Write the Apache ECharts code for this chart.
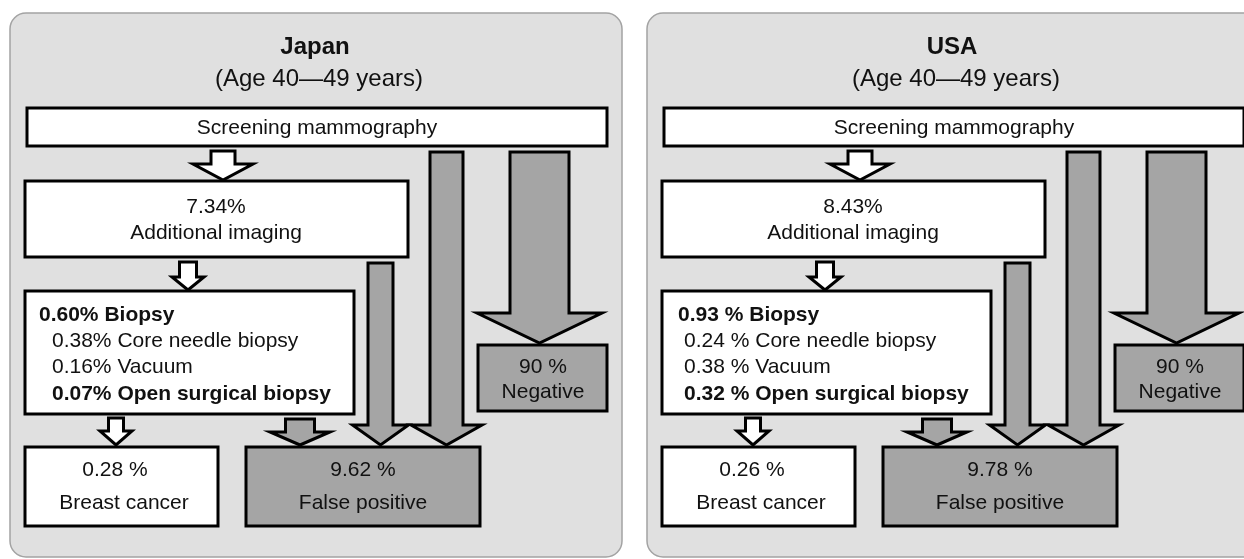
<!DOCTYPE html>
<html>
<head>
<meta charset="utf-8">
<title>Screening mammography outcomes, Japan vs USA</title>
<script src="https://cdn.jsdelivr.net/npm/echarts@6/dist/echarts.min.js"></script>
<style>
  html, body { margin: 0; padding: 0; background: #fff; }
  #main { width: 1244px; height: 559px; }
</style>
</head>
<body>
<div id="main"></div>
<script>
// ---- data ----
const countries = ['Japan', 'USA'];
const ageGroups = ['(Age 40\u201449 years)', '(Age 40\u201449 years)'];
const additionalImaging = [7.34, 8.43];
const biopsyTotal = [0.60, 0.93];
const coreNeedle = [0.38, 0.24];
const vacuum = [0.16, 0.38];
const openSurgical = [0.07, 0.32];
const breastCancer = [0.28, 0.26];
const falsePositive = [9.62, 9.78];
const negative = [90, 90];
// the two panels write the biopsy percentages a little differently
const biopsyPctSep = ['', ' '];
const biopsyIndent = [13, 6];

// ---- layout of one panel, in pixels of the diagram ----
const panelStep = 637;
const FONT = '"Liberation Sans", Arial, sans-serif';
const GREY = '#a5a5a5';
const INK = '#111';

function pct(v, sep) { return v.toFixed(2) + sep + '%'; }

const elements = [];
countries.forEach((name, p) => {
  const dx = p * panelStep;
  const sep = biopsyPctSep[p];
  const rect = (x, y, w, h, fill, extra) => elements.push(Object.assign({kind: 'rect', x: x + dx, y, w, h, fill}, extra || {}));
  const arrow = (cx, sw, hw, top, hb, tip, fill) => elements.push({kind: 'arrow', cx: cx + dx, sw, hw, top, hb, tip, fill});
  const text = (x, y, str, opt) => elements.push(Object.assign({kind: 'text', x: x + dx, y, str}, opt || {}));

  // panel background
  rect(10, 13, 612, 544, '#e0e0e0', {r: 16, stroke: '#a3a3a3', lw: 1.5});

  // boxes
  rect(27, 108, 580, 38, '#fff');
  rect(25, 181, 383, 76, '#fff');
  rect(25, 291, 329, 123, '#fff');
  rect(25, 447, 193, 79, '#fff');
  rect(246, 447, 234, 79, GREY);
  rect(478, 345, 129, 66, GREY);

  // arrows
  arrow(223, 24, 60, 151, 164, 180, '#fff');
  arrow(188, 17, 32, 262, 277, 290, '#fff');
  arrow(116, 15, 32, 418, 431, 445, '#fff');
  arrow(300, 29, 60, 419, 432, 445, GREY);
  arrow(380.5, 25, 56, 263, 425, 445, GREY);
  arrow(446.5, 33, 71, 152, 425, 445, GREY);
  arrow(539.5, 59, 125, 152, 313, 343, GREY);

  // texts
  text(315, 47, name, {bold: true, size: 24});
  text(319, 79, ageGroups[p], {size: 24});
  text(317, 128, 'Screening mammography');
  text(216, 207, additionalImaging[p].toFixed(2) + '%');
  text(216, 233, 'Additional imaging');
  const bx = p === 0 ? 39 : 41;
  const ix = bx + biopsyIndent[p];
  text(bx, 315, pct(biopsyTotal[p], sep) + ' Biopsy', {bold: true, align: 'left'});
  text(ix, 341, pct(coreNeedle[p], sep) + ' Core needle biopsy', {align: 'left'});
  text(ix, 367, pct(vacuum[p], sep) + ' Vacuum', {align: 'left'});
  text(ix, 394, pct(openSurgical[p], sep) + ' Open surgical biopsy', {bold: true, align: 'left'});
  text(115, 470, pct(breastCancer[p], ' '));
  text(124, 503, 'Breast cancer');
  text(363, 470, pct(falsePositive[p], ' '));
  text(363, 503, 'False positive');
  text(543, 367, negative[p] + ' %');
  text(543, 392, 'Negative');
});

// draw order: panels, boxes, arrows, then text
const order = {rect: 0, arrow: 1, text: 2};
const sorted = elements
  .map((e, i) => ({e, i}))
  .sort((a, b) => {
    const pa = a.e.r ? -1 : order[a.e.kind];
    const pb = b.e.r ? -1 : order[b.e.kind];
    return pa - pb || a.i - b.i;
  })
  .map(o => o.e);

function renderItem(params, api) {
  const el = sorted[api.value(0)];
  if (el.kind === 'rect') {
    const a = api.coord([el.x, el.y]);
    const b = api.coord([el.x + el.w, el.y + el.h]);
    return {
      type: 'rect',
      shape: {x: a[0], y: a[1], width: b[0] - a[0], height: b[1] - a[1], r: el.r || 0},
      style: {fill: el.fill, stroke: el.stroke || '#000', lineWidth: el.lw || 3}
    };
  }
  if (el.kind === 'arrow') {
    const s = el.sw / 2, h = el.hw / 2;
    const pts = [
      [el.cx - s, el.top], [el.cx + s, el.top], [el.cx + s, el.hb],
      [el.cx + h, el.hb], [el.cx, el.tip], [el.cx - h, el.hb], [el.cx - s, el.hb]
    ].map(q => api.coord(q));
    return {
      type: 'polygon',
      shape: {points: pts},
      style: {fill: el.fill, stroke: '#000', lineWidth: 3, lineJoin: 'miter'}
    };
  }
  const p = api.coord([el.x, el.y]);
  return {
    type: 'text',
    x: p[0],
    y: p[1],
    style: {
      text: el.str,
      font: (el.bold ? 'bold ' : '') + (el.size || 21) + 'px ' + FONT,
      fill: INK,
      align: el.align || 'center',
      verticalAlign: 'middle'
    }
  };
}

const myChart = echarts.init(document.getElementById('main'));
myChart.setOption({
  animation: false,
  backgroundColor: '#fff',
  grid: {left: 0, right: 0, top: 0, bottom: 0},
  xAxis: {type: 'value', min: 0, max: 1244, show: false},
  yAxis: {type: 'value', min: 0, max: 559, inverse: true, show: false},
  series: [{
    type: 'custom',
    silent: true,
    clip: false,
    renderItem: renderItem,
    encode: {x: 0, y: 1},
    data: sorted.map((e, i) => [i, 0])
  }]
});
</script>
</body>
</html>
